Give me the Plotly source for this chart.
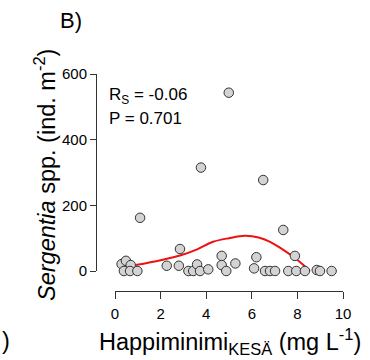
import plotly.graph_objects as go

# Data
oxygen_min = [0.29, 0.48, 0.69, 0.39, 0.66, 0.98, 1.10, 2.27, 2.80, 2.85, 3.22, 3.43,
              3.60, 3.73, 4.09, 3.77, 4.68, 4.68, 4.88, 4.99, 5.28, 6.10, 6.20, 6.50,
              6.58, 6.80, 7.02, 7.38, 7.60, 7.89, 7.95, 8.33, 8.85, 8.99, 9.50]
sergentia = [21, 31, 18, 0, 0, 0, 162, 16, 16, 67, 0, 0,
             20, 0, 5, 315, 46, 18, 0, 543, 23, 8, 42, 277,
             0, 0, 0, 125, 0, 46, 0, 0, 3, 0, 0]

smooth_x = [0.9, 2.0, 2.85, 3.6, 4.3, 5.0, 5.7, 6.3, 6.8, 7.3, 7.8, 8.2, 8.55]
smooth_y = [18, 33, 47, 66, 89, 100, 107, 102, 89, 68, 44, 22, 0]

x_ticks = [0, 2, 4, 6, 8, 10]
y_ticks = [0, 200, 400, 600]

W, H = 370, 360
# pixel geometry
x0_px, x10_px = 115, 343
y0_px, y600_px = 271, 74
pxu_x = (x10_px - x0_px) / 10
pxu_y = (y0_px - y600_px) / 600
xr = [-x0_px / pxu_x, (W - x0_px) / pxu_x]
yr = [-(H - y0_px) / pxu_y, y0_px / pxu_y]

font = "Liberation Sans, Arial, sans-serif"

fig = go.Figure()
fig.add_trace(go.Scatter(x=smooth_x, y=smooth_y, mode="lines",
                         line=dict(color="#ee1111", width=2, shape="spline"),
                         hoverinfo="skip", showlegend=False))
fig.add_trace(go.Scatter(x=oxygen_min, y=sergentia, mode="markers",
                         marker=dict(size=9.5, color="#d3d3d3",
                                     line=dict(color="#333333", width=1)),
                         showlegend=False))
# dummy trace for the displayed axes
fig.add_trace(go.Scatter(x=[None], y=[None], xaxis="x2", yaxis="y2",
                         showlegend=False, hoverinfo="skip"))

fig.update_layout(
    template="none",
    width=W, height=H, margin=dict(l=0, r=0, t=0, b=0, pad=0, autoexpand=False),
    paper_bgcolor="white", plot_bgcolor="rgba(0,0,0,0)",
    font=dict(family=font, color="black"),
    xaxis=dict(domain=[0, 1], range=xr, visible=False, fixedrange=True, automargin=False),
    yaxis=dict(domain=[0, 1], range=yr, visible=False, fixedrange=True, automargin=False),
    xaxis2=dict(domain=[x0_px / W, x10_px / W], range=[0, 10], automargin=False,
                anchor="free", position=(H - 291) / H,
                tickvals=x_ticks, ticks="outside", ticklen=7, tickwidth=1,
                tickcolor="#333", showline=True, linecolor="#333", linewidth=1,
                showgrid=False, zeroline=False,
                tickfont=dict(size=15, family=font, color="black"),
                ticklabelstandoff=2),
    yaxis2=dict(domain=[(H - y0_px) / H, (H - y600_px) / H], range=[0, 600], automargin=False,
                anchor="free", position=96 / W,
                tickvals=y_ticks, ticks="outside", ticklen=6, tickwidth=1,
                tickcolor="#333", showline=True, linecolor="#333", linewidth=1,
                showgrid=False, zeroline=False,
                tickfont=dict(size=15, family=font, color="black")),
)

ann = [
    dict(text="B)", x=58, y=20, size=22, xanchor="left"),
    dict(text="R<sub>S</sub> = -0.06", x=107, y=96, size=17, xanchor="left"),
    dict(text="P = 0.701", x=107, y=119, size=17, xanchor="left"),
    dict(text="Happiminimi<sub>KESÄ</sub> (mg L<sup>-1</sup>)", x=230, y=341, size=23.5, xanchor="center"),
    dict(text=")", x=0, y=341, size=23.5, xanchor="left"),
]
for a in ann:
    fig.add_annotation(text=a["text"], x=a["x"] / W, y=1 - a["y"] / H,
                       xref="paper", yref="paper", xanchor=a["xanchor"], yanchor="middle",
                       showarrow=False, font=dict(size=a["size"], family=font, color="black"))
fig.add_annotation(text="<i>Sergentia</i> spp. (ind. m<sup>-2</sup>)", x=45 / W, y=1 - 175 / H,
                   xref="paper", yref="paper", xanchor="center", yanchor="middle",
                   textangle=-90, showarrow=False,
                   font=dict(size=23.5, family=font, color="black"))

fig.write_html("out.html")
